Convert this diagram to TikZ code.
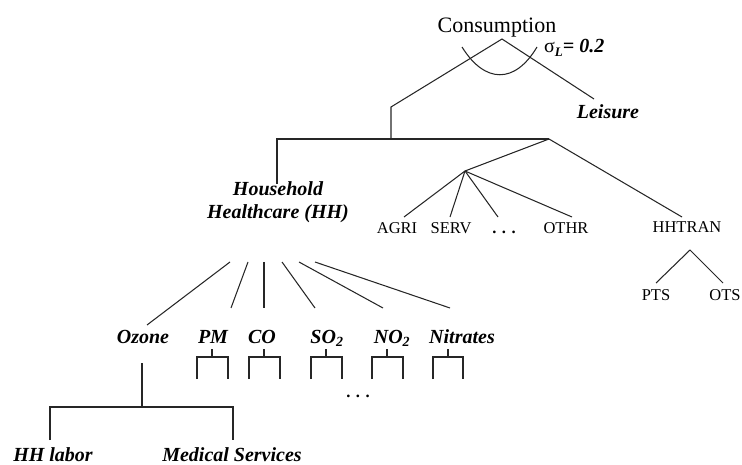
\documentclass[tikz,border=0pt]{standalone}
\usepackage{fontspec}
\setmainfont{Liberation Serif}
\begin{document}
\begin{tikzpicture}[x=1pt,y=-1pt,
  ln/.style={line width=1.05pt, draw=black!85},
  lab/.style={anchor=base, inner sep=0pt, font=\fontsize{16.5}{18}\selectfont},
  blab/.style={anchor=base, inner sep=0pt, font=\fontsize{20}{22}\selectfont\bfseries\itshape},
  bigl/.style={anchor=base, inner sep=0pt, font=\fontsize{22}{24}\selectfont}]
\useasboundingbox (0,0) rectangle (742,465);
% text nodes
\node[bigl] (cons) at (497,33) {Consumption};
\node[anchor=base west, inner sep=0pt] (sig) at (544,53) {\fontsize{20}{22}\selectfont σ\raisebox{-0.35ex}{\fontsize{13}{13}\selectfont\bfseries\itshape L}\textbf{\textit{= 0.2}}};
\node[blab] (leis) at (608,119) {Leisure};
\node[blab, align=center] (hh) at (278,219) {Household\\[1pt]Healthcare (HH)};
\node[lab] (agri) at (397,234) {AGRI};
\node[lab] (serv) at (451,234) {SERV};
\node[lab] (dots1) at (504,234) {\textbf{. . .}};
\node[lab] (othr) at (566,234) {OTHR};
\node[lab] (hht) at (687,233) {HHTRAN};
\node[lab] (pts) at (656,301) {PTS};
\node[lab] (ots) at (725,301) {OTS};
\node[blab] (oz) at (143,343) {Ozone};
\node[blab] (pm) at (213,343) {PM};
\node[blab] (co) at (262,343) {CO};
\node[blab] (so) at (327,343) {SO\textsubscript{2}};
\node[blab] (no) at (392,343) {NO\textsubscript{2}};
\node[blab] (nit) at (462,343) {Nitrates};
\node[lab] (dots2) at (358,397) {\textbf{. . .}};
\node[blab] (hhl) at (53,461) {HH labor};
\node[blab] (med) at (232,461) {Medical Services};
% junction coordinates
\coordinate (top) at (502,39);
\coordinate (lk) at (391,107);
\coordinate (lb) at (391,139);
\coordinate (hl) at (277,139);
\coordinate (hr) at (549,139);
\coordinate (hhtop) at (277,184);
\coordinate (leisE) at (594,99);
\coordinate (jn) at (465,171);
\coordinate (agriT) at (404,217);
\coordinate (servT) at (450,217);
\coordinate (dotsT) at (498,217);
\coordinate (othrT) at (572,217);
\coordinate (hhtT) at (682,217);
\coordinate (hj) at (690,250);
\coordinate (ptsT) at (656,283);
\coordinate (otsT) at (723,283);
% top
\draw[ln] (lb) -- (lk) -- (top) -- (leisE);
\draw[ln] (462,47) .. controls (485,84) and (515,84) .. (537,47);
\draw[ln] (hhtop) -- (hl) -- (hr);
\draw[ln] (jn) -- (hr) -- (hhtT);
\foreach \t in {agriT,servT,dotsT,othrT} \draw[ln] (jn) -- (\t);
\draw[ln] (ptsT) -- (hj) -- (otsT);
% HH branches
\coordinate (b1) at (230,262); \coordinate (e1) at (147,325);
\coordinate (b2) at (248,262); \coordinate (e2) at (231,308);
\coordinate (b3) at (264,262); \coordinate (e3) at (264,308);
\coordinate (b4) at (282,262); \coordinate (e4) at (315,308);
\coordinate (b5) at (299,262); \coordinate (e5) at (383,308);
\coordinate (b6) at (315,262); \coordinate (e6) at (450,308);
\foreach \i in {1,...,6} \draw[ln] (b\i) -- (e\i);
% small brackets
\foreach \s/\l/\r in {212/197/228, 264/249/280, 326/311/342, 387/372/403, 448/433/463}{
  \draw[ln] (\s,349) -- (\s,357);
  \draw[ln] (\l,379) -- (\l,357) -- (\r,357) -- (\r,379);
}
% ozone tree
\coordinate (ozT) at (142,363);
\coordinate (ozJ) at (142,407);
\coordinate (hhlT) at (50,440);
\coordinate (medT) at (233,440);
\draw[ln] (ozT) -- (ozJ);
\draw[ln] (hhlT) -- (50,407) -- (233,407) -- (medT);
\end{tikzpicture}
\end{document}
